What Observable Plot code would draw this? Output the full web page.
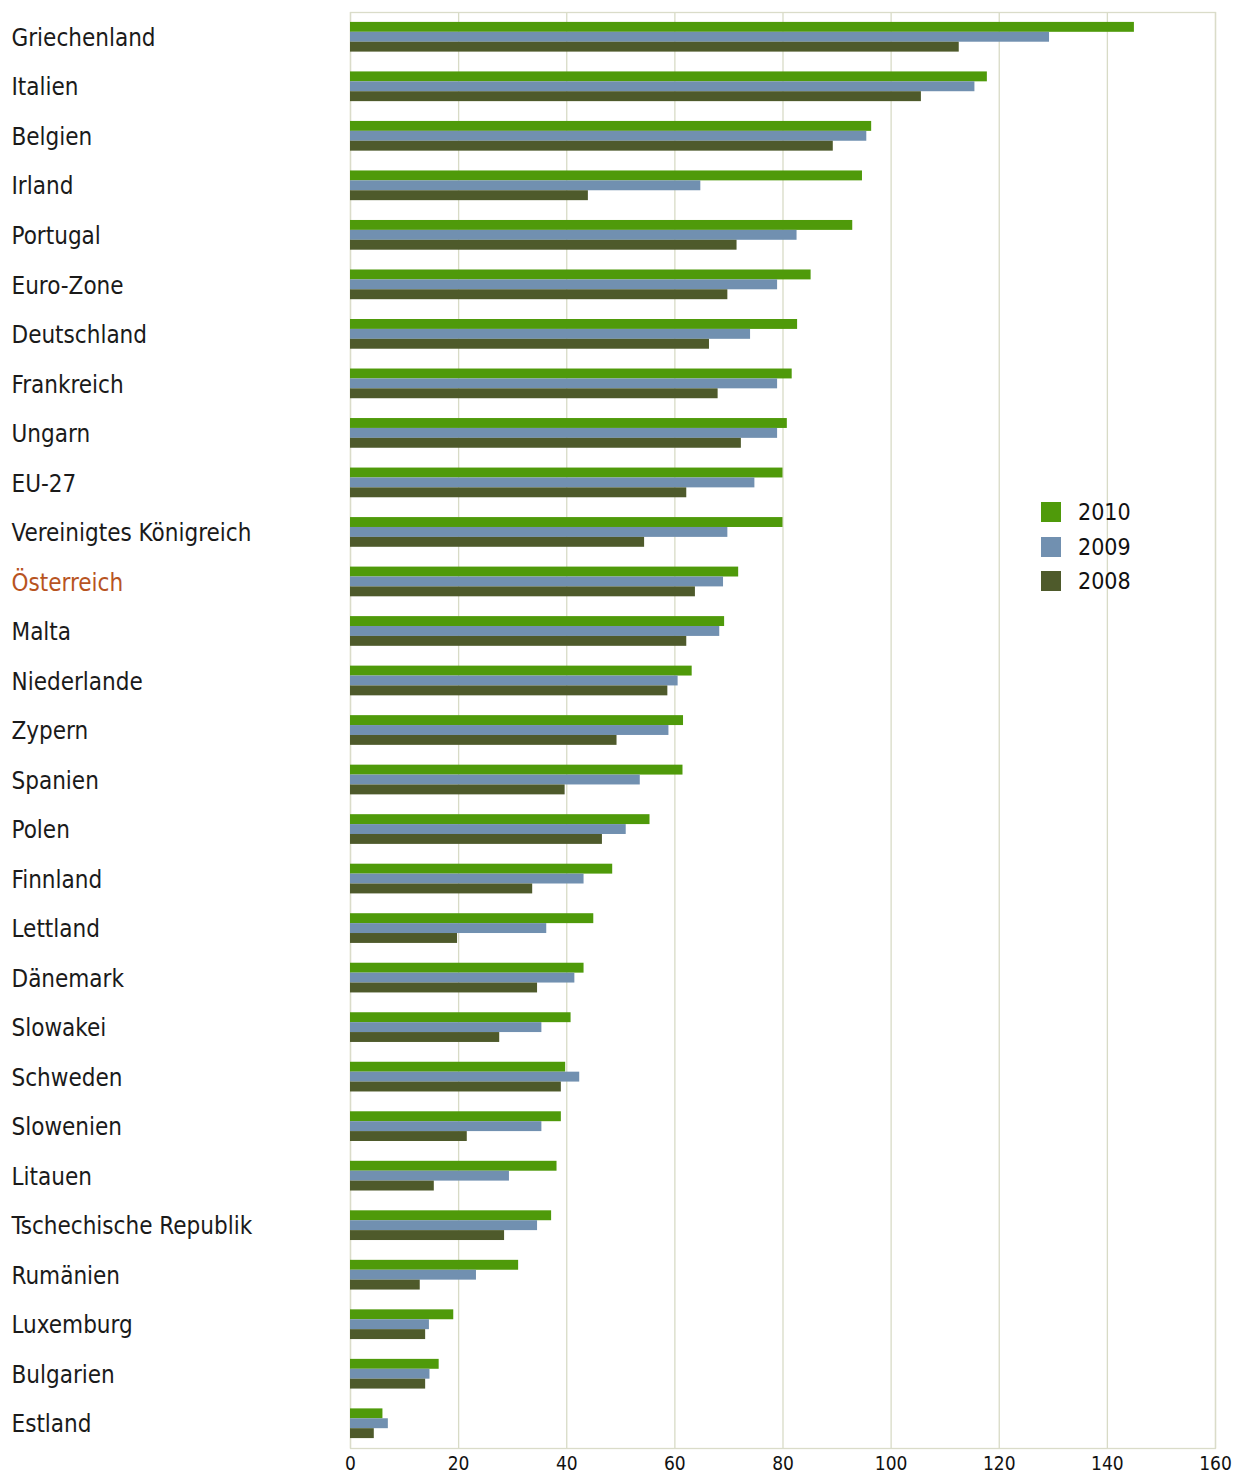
<!DOCTYPE html>
<html>
<head>
<meta charset="utf-8">
<script src="https://cdn.jsdelivr.net/npm/d3@7"></script>
<script src="https://cdn.jsdelivr.net/npm/@observablehq/plot@0.6"></script>
<style>
  body { margin: 0; background: #fff; }
  #wrap { position: relative; width: 1235px; height: 1476px; }
  #legend { position: absolute; left: 1041px; top: 495px; font-family: "DejaVu Sans Condensed", "DejaVu Sans", sans-serif; font-size: 23px; color: #111; }
  .item { display: flex; align-items: center; height: 34.5px; }
  .sw { width: 20px; height: 20px; margin-right: 17px; }
</style>
</head>
<body>
<div id="wrap">
  <div id="chart"></div>
  <div id="legend"></div>
</div>
<script>
const countries = ["Griechenland","Italien","Belgien","Irland","Portugal","Euro-Zone","Deutschland","Frankreich","Ungarn","EU-27","Vereinigtes Königreich","Österreich","Malta","Niederlande","Zypern","Spanien","Polen","Finnland","Lettland","Dänemark","Slowakei","Schweden","Slowenien","Litauen","Tschechische Republik","Rumänien","Luxemburg","Bulgarien","Estland"];
const v2010 = [145.0,117.8,96.4,94.7,92.9,85.2,82.7,81.7,80.8,80.0,80.0,71.8,69.2,63.2,61.6,61.5,55.4,48.5,45.0,43.2,40.8,39.8,39.0,38.2,37.2,31.1,19.1,16.4,6.0];
const v2009 = [129.3,115.5,95.5,64.8,82.6,79.0,74.0,79.0,79.0,74.8,69.8,69.0,68.3,60.6,58.9,53.6,51.0,43.2,36.3,41.5,35.4,42.4,35.4,29.4,34.6,23.3,14.6,14.7,7.0];
const v2008 = [112.6,105.6,89.3,44.0,71.5,69.8,66.4,68.0,72.3,62.2,54.4,63.8,62.2,58.7,49.3,39.7,46.6,33.7,19.8,34.6,27.6,39.0,21.6,15.5,28.5,12.9,13.9,13.9,4.4];
const years = ["2010","2009","2008"];
const colors = ["#4f9a0a","#7190b0","#4e5a2b"];
const xTicks = [0,20,40,60,80,100,120,140,160];
const highlight = "Österreich";

const rows = countries.map((c, i) => ({country: c, v2010: v2010[i], v2009: v2009[i], v2008: v2008[i]}));

const font = '"DejaVu Sans Condensed", "DejaVu Sans", sans-serif';
const step = (1476 - 12 - 28) / countries.length;
const bw = step * 0.6; // band width in px
const third = bw / 3;

const chart = Plot.plot({
  width: 1235,
  height: 1476,
  marginLeft: 350,
  marginRight: 20,
  marginTop: 12,
  marginBottom: 28,
  style: {fontFamily: font, background: "#fff", overflow: "visible"},
  x: {domain: [0, 160], axis: null},
  y: {domain: countries, paddingInner: 0.4, paddingOuter: 0.2, round: false, axis: null},
  marks: [
    Plot.gridX(xTicks, {stroke: "#d8dbc6", strokeOpacity: 1, strokeWidth: 1.3}),
    Plot.frame({stroke: "#dadcc9", strokeWidth: 1.3}),
    Plot.barX(rows, {x: "v2010", y: "country", fill: colors[0], insetTop: 0, insetBottom: 2 * third}),
    Plot.barX(rows, {x: "v2009", y: "country", fill: colors[1], insetTop: third, insetBottom: third}),
    Plot.barX(rows, {x: "v2008", y: "country", fill: colors[2], insetTop: 2 * third, insetBottom: 0}),
    Plot.text(countries, {y: d => d, frameAnchor: "left", dx: -339, dy: 1, textAnchor: "start", fontSize: 24,
      fill: d => d === highlight ? "#b8541f" : "#1a1a1a"}),
    Plot.axisX(xTicks, {anchor: "bottom", tickSize: 0, tickPadding: 8, fontSize: 19, fill: "#111", tickFormat: d => String(d)})
  ]
});
document.getElementById("chart").appendChild(chart);

const legend = document.getElementById("legend");
years.forEach((y, i) => {
  const item = document.createElement("div");
  item.className = "item";
  const sw = document.createElement("div");
  sw.className = "sw";
  sw.style.background = colors[i];
  const t = document.createElement("span");
  t.textContent = y;
  item.appendChild(sw);
  item.appendChild(t);
  legend.appendChild(item);
});
</script>
</body>
</html>
